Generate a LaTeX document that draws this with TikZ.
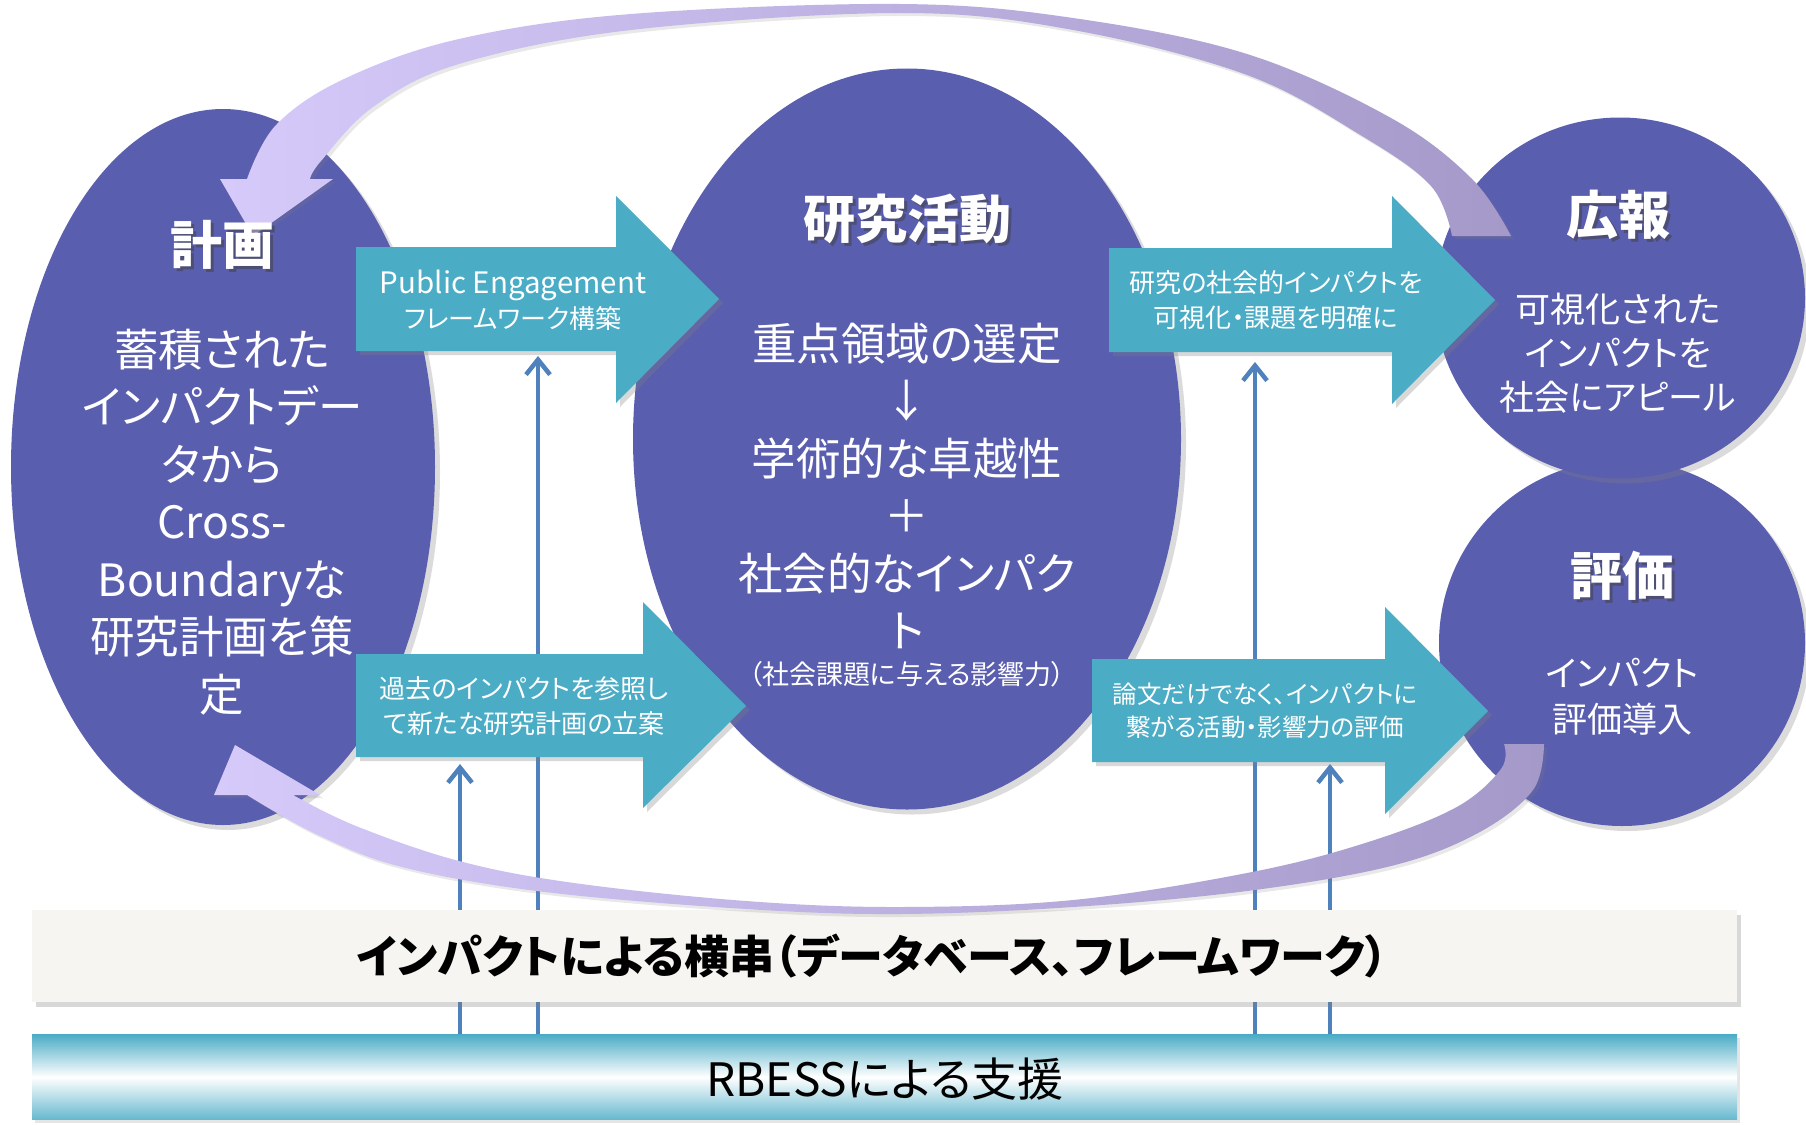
\documentclass[tikz,border=0pt]{standalone}
\usepackage{fontspec}
\setmainfont{Noto Sans CJK JP}[RawFeature=+palt]
\usetikzlibrary{shapes.geometric,shadows,arrows.meta,calc}
\definecolor{ellc}{RGB}{90,94,174}
\definecolor{tealc}{RGB}{75,172,198}
\definecolor{lineblue}{RGB}{79,129,189}
\definecolor{lavL}{RGB}{214,202,250}
\definecolor{lavD}{RGB}{164,153,200}
\definecolor{barbg}{RGB}{246,245,241}
\begin{document}
\begin{tikzpicture}[x=1pt,y=-1pt,
 blob/.style={ellipse,fill=ellc,inner sep=0pt,drop shadow={shadow xshift=5pt,shadow yshift=-5pt,opacity=0.28}},
 ttl/.style={text=white,font=\bfseries\fontsize{52}{56}\selectfont,inner sep=0pt},
 ttlsh/.style={text=black!75,opacity=0.5,font=\bfseries\fontsize{52}{56}\selectfont,inner sep=0pt},
 big/.style={text=white,align=center,font=\fontsize{44.5}{57.5}\selectfont,inner sep=0pt},
 med/.style={text=white,align=center,font=\fontsize{35}{44}\selectfont,inner sep=0pt},
 atext/.style={text=white,align=center,font=\fontsize{26}{35}\selectfont,inner sep=0pt},
 blk/.style={fill=tealc,drop shadow={shadow xshift=4pt,shadow yshift=-4pt,opacity=0.3}},
 vline/.style={draw=lineblue,line width=4.5pt,-{Straight Barb[length=15pt,width=24pt,line width=4.5pt]}},
 curv/.style={left color=lavL,right color=lavD,drop shadow={shadow xshift=3pt,shadow yshift=-3pt,opacity=0.18}}
]
\useasboundingbox[fill=white] (0,0) rectangle (1806,1124);

% vertical support lines
\coordinate (v1a) at (460,1035); \coordinate (v1b) at (460,764);
\coordinate (v2a) at (538,1035); \coordinate (v2b) at (538,356);
\coordinate (v3a) at (1255,1035); \coordinate (v3b) at (1255,362);
\coordinate (v4a) at (1330,1035); \coordinate (v4b) at (1330,764);
\draw[vline] (v1a) -- (v1b);
\draw[vline] (v2a) -- (v2b);
\draw[vline] (v3a) -- (v3b);
\draw[vline] (v4a) -- (v4b);

% bars
\node[fill=barbg,minimum width=1705pt,minimum height=92pt,inner sep=0pt,
      drop shadow={shadow xshift=4pt,shadow yshift=-5pt,opacity=0.3}] (cross) at (884.5,956) {};
\node[top color=tealc,bottom color=tealc!85,middle color=white,minimum width=1705pt,minimum height=85pt,inner sep=0pt,
      drop shadow={shadow xshift=3pt,shadow yshift=-3pt,opacity=0.2}] (rbess) at (884.5,1077) {};

% ellipses
\node[blob,minimum width=424pt,minimum height=716pt] (plan) at (223,467) {};
\node[blob,minimum width=548pt,minimum height=741pt] (res) at (907,439) {};
\node[blob,minimum width=366pt,minimum height=366pt] (ev) at (1622,643) {};
\node[blob,minimum width=370pt,minimum height=361pt] (pr) at (1620,298) {};

% teal block arrows
\path[blk] (356,247) -- (616,247) -- (616,196) -- (719,299) -- (616,403) -- (616,351) -- (356,351) -- cycle;
\path[blk] (356,654) -- (643,654) -- (643,602) -- (746,706) -- (643,808) -- (643,757) -- (356,757) -- cycle;
\path[blk] (1109,248) -- (1392,248) -- (1392,196) -- (1495,300) -- (1392,404) -- (1392,352) -- (1109,352) -- cycle;
\path[blk] (1092,659) -- (1385,659) -- (1385,607) -- (1488,711) -- (1385,814) -- (1385,762) -- (1092,762) -- cycle;

% curved arrows
\path[curv] (1511,236) -- plot[smooth,tension=0.6] coordinates {(1511,236) (1472,179) (1391,118) (1247,54) (1073,18) (900,4) (631,14) (459,39) (344,79) (276,125) (247,179)}
  -- (220,179) -- (253,236) -- (333,179) -- (310,179)
  -- plot[smooth,tension=0.6] coordinates {(310,179) (321,161) (373,107) (459,64) (631,30) (900,13) (1073,30) (1247,75) (1362,136) (1431,186) (1452,236)} -- cycle;
\path[curv] (1544,744) -- plot[smooth,tension=0.6] coordinates {(1544,744) (1533,790) (1478,833) (1391,866) (1247,891) (1073,907) (900,914) (746,909) (545,892) (402,867) (316,834) (247,795)}
  -- (214,795) -- (235,745) -- (320,795) -- (293,795)
  -- plot[smooth,tension=0.6] coordinates {(293,795) (356,826) (459,861) (574,883) (746,901) (900,907) (1073,900) (1247,873) (1362,844) (1455,808) (1501,769) (1504,744)} -- cycle;

% titles
\node[ttlsh] (plansh) at (225,248) {計画};
\node[ttl] (plant) at (222,245) {計画};
\node[ttlsh] (ressh) at (910,222) {研究活動};
\node[ttl] (rest) at (907,219) {研究活動};
\node[ttlsh] (prsh) at (1621,218) {広報};
\node[ttl] (prt) at (1618,215) {広報};
\node[ttlsh] (evsh) at (1625,579) {評価};
\node[ttl] (evt) at (1622,576) {評価};

% bodies
\node[big] (planb) at (222,522) {蓄積された\\インパクトデー\\タから\\Cross-\\Boundaryな\\研究計画を策\\定};
\node[big] (resb) at (907,486) {重点領域の選定\\↓\\学術的な卓越性\\＋\\社会的なインパク\\ト};
\node[text=white,inner sep=0pt,font=\fontsize{27}{30}\selectfont] (resn) at (907,674) {（社会課題に与える影響力）};
\node[med] (prb) at (1618,353) {可視化された\\インパクトを\\社会にアピール};
\node[med,font=\fontsize{35}{46}\selectfont] (evb) at (1622,697) {インパクト\\評価導入};

% arrow texts
\node[atext] (a1) at (513,300) {{\fontsize{29.5}{35}\selectfont Public Engagement}\\フレームワーク構築};
\node[atext] (a2) at (524,706) {過去のインパクトを参照し\\て新たな研究計画の立案};
\node[atext] (a3) at (1276,300) {研究の社会的インパクトを\\可視化・課題を明確に};
\node[atext,font=\fontsize{24.5}{33}\selectfont] (a4) at (1265,711) {論文だけでなく、インパクトに\\繋がる活動・影響力の評価};

% bar texts
\node[inner sep=0pt,font=\bfseries\fontsize{45}{50}\selectfont] (crosst) at (872,956) {インパクトによる横串（データベース、フレームワーク）};
\node[inner sep=0pt,font=\fontsize{46}{50}\selectfont] (rbesst) at (885,1079) {RBESSによる支援};
\end{tikzpicture}
\end{document}
